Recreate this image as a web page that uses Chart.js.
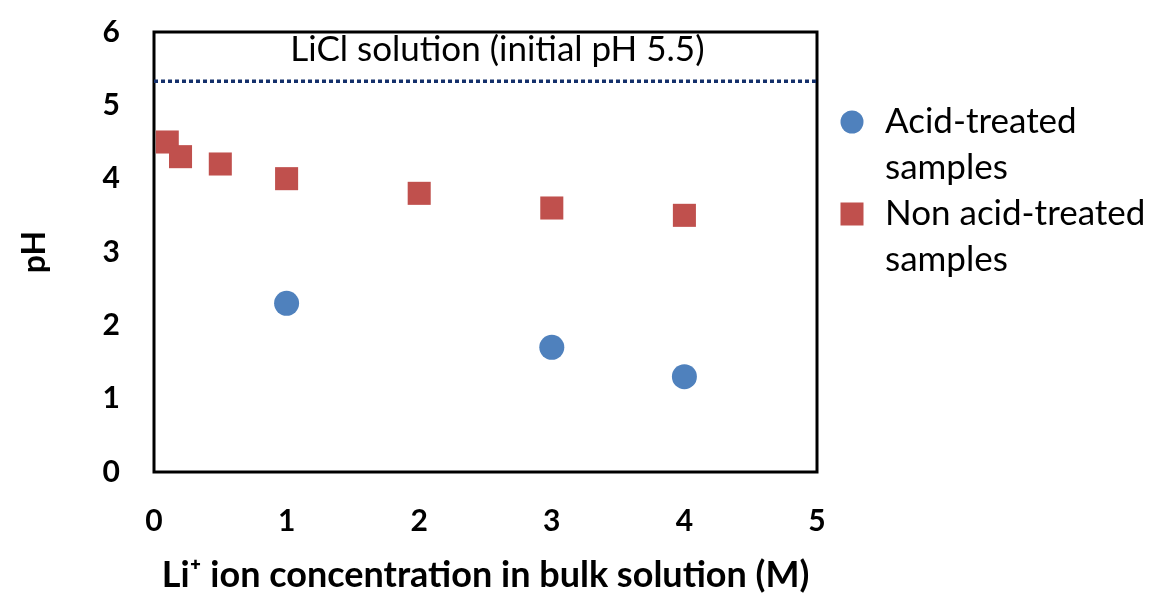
<!DOCTYPE html>
<html>
<head>
<meta charset="utf-8">
<script src="https://cdn.jsdelivr.net/npm/chart.js@4/dist/chart.umd.min.js"></script>
<style>
  html, body { margin: 0; background: #fff; }
</style>
</head>
<body>
<canvas id="chart" width="1149" height="593"></canvas>
<script>
// ─── Datos ───────────────────────────────────────────────
const acidX    = [1, 3, 4];
const acidY    = [2.3, 1.7, 1.3];
const nonAcidX = [0.1, 0.2, 0.5, 1, 2, 3, 4];
const nonAcidY = [4.5, 4.3, 4.2, 4.0, 3.8, 3.6, 3.5];
const refX     = [0, 5];
const refY     = [5.33, 5.33];

const seriesLabels = [['Acid-treated', 'samples'], ['Non acid-treated', 'samples']];
const refLabel     = 'LiCl solution (initial pH 5.5)';
const xTitle       = 'Li\u207A ion concentration in bulk solution (M)';
const yTitle       = 'pH';

const BLUE = '#4f81bd';
const RED  = '#c0504d';
const NAVY = '#14306b';
const FONT = 'Lato, "Open Sans", sans-serif';

const toPts = (xs, ys) => xs.map((x, i) => ({ x, y: ys[i] }));

// caja del área de trazado
const boxPlugin = {
  id: 'box',
  beforeDatasetsDraw(chart) {
    const { ctx, chartArea: a } = chart;
    ctx.save();
    ctx.strokeStyle = '#000';
    ctx.lineWidth = 3;
    ctx.strokeRect(a.left, a.top, a.right - a.left, a.bottom - a.top);
    ctx.restore();
  },
};

// texto de la línea de referencia + leyenda a la derecha
const extrasPlugin = {
  id: 'extras',
  afterDraw(chart) {
    const { ctx } = chart;
    const xs = chart.scales.x, ys = chart.scales.y;
    ctx.save();
    ctx.fillStyle = '#000';
    ctx.font = `35px ${FONT}`;
    ctx.textAlign = 'center';
    ctx.textBaseline = 'middle';
    ctx.fillText(refLabel, xs.getPixelForValue(2.59), ys.getPixelForValue(5.76));

    // leyenda
    ctx.textAlign = 'left';
    const lx = 852, tx = 885, lineH = 46, top = 122;
    ctx.fillStyle = BLUE;
    ctx.beginPath();
    ctx.arc(lx, top, 11.5, 0, Math.PI * 2);
    ctx.fill();
    ctx.fillStyle = RED;
    ctx.fillRect(lx - 11.5, top + 2 * lineH - 11.5, 23, 23);
    ctx.fillStyle = '#000';
    let row = 0;
    seriesLabels.forEach(lines => {
      lines.forEach(t => {
        ctx.fillText(t, tx, top + row * lineH);
        row++;
      });
    });
    ctx.restore();
  },
};

const tickFont = { family: FONT, size: 30, weight: 'bold', lineHeight: 1 };

new Chart(document.getElementById('chart'), {
  type: 'scatter',
  data: {
    datasets: [
      {
        type: 'line',
        label: 'ref',
        data: toPts(refX, refY),
        borderColor: NAVY,
        borderWidth: 3.5,
        borderDash: [4, 3],
        pointRadius: 0,
        fill: false,
      },
      {
        label: seriesLabels[0].join(' '),
        data: toPts(acidX, acidY),
        pointStyle: 'circle',
        pointRadius: 12.5,
        backgroundColor: BLUE,
        borderColor: BLUE,
        borderWidth: 0,
      },
      {
        label: seriesLabels[1].join(' '),
        data: toPts(nonAcidX, nonAcidY),
        pointStyle: 'rect',
        pointRadius: 16.3,
        backgroundColor: RED,
        borderColor: RED,
        borderWidth: 0,
      },
    ],
  },
  options: {
    responsive: false,
    animation: false,
    devicePixelRatio: 1,
    layout: { padding: { left: 0, right: 332, top: 32, bottom: 0 } },
    plugins: {
      legend: { display: false },
      tooltip: { enabled: false },
    },
    scales: {
      x: {
        type: 'linear',
        min: 0, max: 5,
        afterFit: s => { s.height = 121; s.paddingLeft = 0; s.paddingRight = 0; },
        grid: { display: false, drawTicks: false },
        border: { display: false },
        ticks: { stepSize: 1, color: '#000', font: tickFont, padding: 34, maxRotation: 0 },
        title: {
          display: true, text: xTitle, color: '#000',
          font: { family: FONT, size: 36, weight: 'bold', lineHeight: 1 },
          padding: { top: 0, bottom: 0 },
        },
      },
      y: {
        min: 0, max: 6,
        afterFit: s => { s.width = 154; s.paddingTop = 0; s.paddingBottom = 0; },
        grid: { display: false, drawTicks: false },
        border: { display: false },
        ticks: { stepSize: 1, color: '#000', font: tickFont, padding: 34 },
        title: {
          display: true, text: yTitle, color: '#000',
          font: { family: FONT, size: 32, weight: 'bold', lineHeight: 1 },
          padding: { top: 19, bottom: 0 },
        },
      },
    },
  },
  plugins: [boxPlugin, extrasPlugin],
});
</script>
</body>
</html>
